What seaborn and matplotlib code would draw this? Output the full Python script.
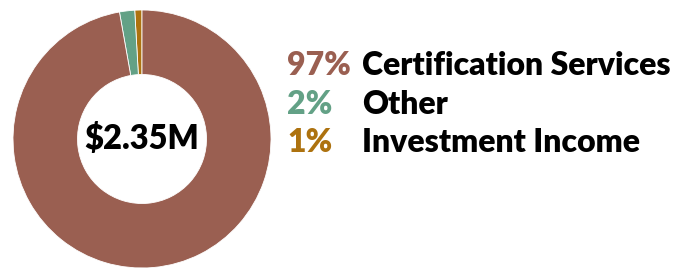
import matplotlib
matplotlib.use("Agg")
import matplotlib.pyplot as plt
import seaborn as sns

# revenue split, counterclockwise from the top
categories = ["Investment Income", "Other", "Certification Services"]
shares = [0.9, 1.9, 97.2]
pct_labels = ["1%", "2%", "97%"]
colors = ["#ad720f", "#63a186", "#9a5f51"]
total_label = "$2.35M"

sns.set_theme(style="white")
plt.rcParams["font.family"] = ["Lato", "DejaVu Sans"]

fig = plt.figure(figsize=(6.91, 2.68), dpi=100)
ax = fig.add_axes([13 / 691, 0, 258 / 691, 258 / 268])

ax.pie(shares, colors=colors, startangle=90, counterclock=True,
       wedgeprops=dict(width=0.5, edgecolor="white", linewidth=0.6))
ax.set_xlim(-1, 1)
ax.set_ylim(-1, 1)
ax.set_aspect("equal")
ax.text(0, 0, total_label, ha="center", va="center", fontsize=23.5,
        fontweight="heavy", color="black")

# legend as text rows, top row is the largest share
baselines = [75, 114, 152]
for i, (cat, pct, col) in enumerate(zip(categories[::-1], pct_labels[::-1], colors[::-1])):
    y = 1 - baselines[i] / 268
    fig.text(287 / 691, y, pct, color=col, fontsize=23, fontweight="heavy", va="baseline")
    fig.text(362 / 691, y, cat, color="black", fontsize=23, fontweight="heavy", va="baseline")

fig.savefig("out.png", dpi=100)
